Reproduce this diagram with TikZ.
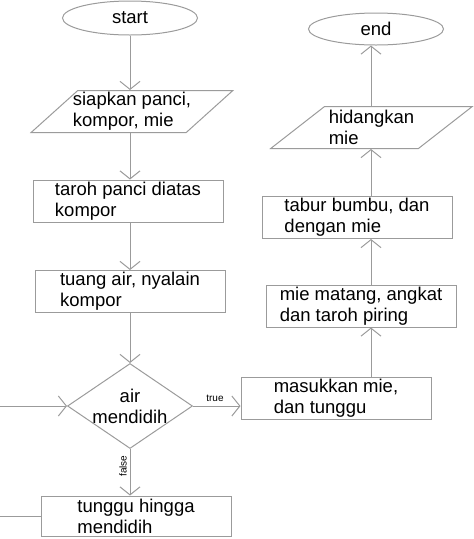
\documentclass[tikz,border=0pt]{standalone}
\usepackage{fontspec}
\setmainfont{Liberation Sans}
\usetikzlibrary{shapes.geometric,arrows.meta}
\definecolor{garis}{RGB}{155,155,155}

\begin{document}
\begin{tikzpicture}[x=1pt,y=-1pt]
\tikzstyle{every node}=[font=\fontsize{18.5}{21}\selectfont, align=left,
                        inner sep=0pt]
\tikzstyle{terminal}=[ellipse, draw=garis, line width=1pt,
                      minimum width=135pt, minimum height=34pt]
\tikzstyle{proses}=[rectangle, draw=garis, line width=1pt,
                    minimum width=190pt, minimum height=42pt]
\tikzstyle{io}=[trapezium, trapezium left angle=41, trapezium right angle=139,
                trapezium stretches, draw=garis, line width=1pt,
                minimum width=202pt, minimum height=42pt, inner xsep=-8pt]
\tikzstyle{cek}=[diamond, draw=garis, line width=1pt, aspect=1.47,
                 minimum width=125pt, minimum height=85pt, inner sep=-2pt, align=center]
\tikzstyle{arr}=[draw=garis, line width=1pt, -{Straight Barb[length=8pt,width=20pt]}]
\tikzstyle{kecil}=[font=\fontsize{10}{12}\selectfont]
\useasboundingbox (0,0) rectangle (474,539);
% left column
\coordinate (kiri) at (130,0);
\node[terminal] (start) at (130,18){start};
\node[io] (siapkan) at (132,111.5){siapkan panci,\\kompor, mie};
\node[proses] (taroh) at (128,201){taroh panci diatas\\kompor};
\node[proses] (tuang) at (130,291.5){tuang air, nyalain\\kompor};
\node[cek] (dia) at (130,406){air\\mendidih};
\node[proses, minimum height=40pt] (tunggu) at (136,516){tunggu hingga\\mendidih};
% right column
\coordinate (kanan) at (371,0);
\node[proses] (masuk) at (336,398){masukkan mie,\\dan tunggu};
\node[proses] (angkat) at (361,306){mie matang, angkat\\dan taroh piring};
\node[proses] (tabur) at (357,217.5){tabur bumbu, dan\\dengan mie};
\node[io] (saji) at (371.5,127.5){hidangkan\\mie};
\node[terminal, minimum height=32pt] (stop) at (376,29){end};
% labels
\node[kecil] (ltrue) at (215,398){true};
\node[kecil, rotate=90] (lfalse) at (123,466){false};
% arrows
\foreach \i/\j in {start/siapkan,siapkan/taroh,taroh/tuang,tuang/dia}{\draw[arr] (\i.south -| kiri) -- (\j.north -| kiri);}
\foreach \i/\j in {masuk/angkat,angkat/tabur,tabur/saji,saji/stop}{\draw[arr] (\i.north -| kanan) -- (\j.south -| kanan);}
\draw[arr] (dia.east) -- (dia.east -| masuk.west);
\draw[arr] (dia.south) -- (dia.south |- tunggu.north);
\draw[arr] (tunggu.west) -- ++(-60,0) |- (dia.west);
\end{tikzpicture}
\end{document}
